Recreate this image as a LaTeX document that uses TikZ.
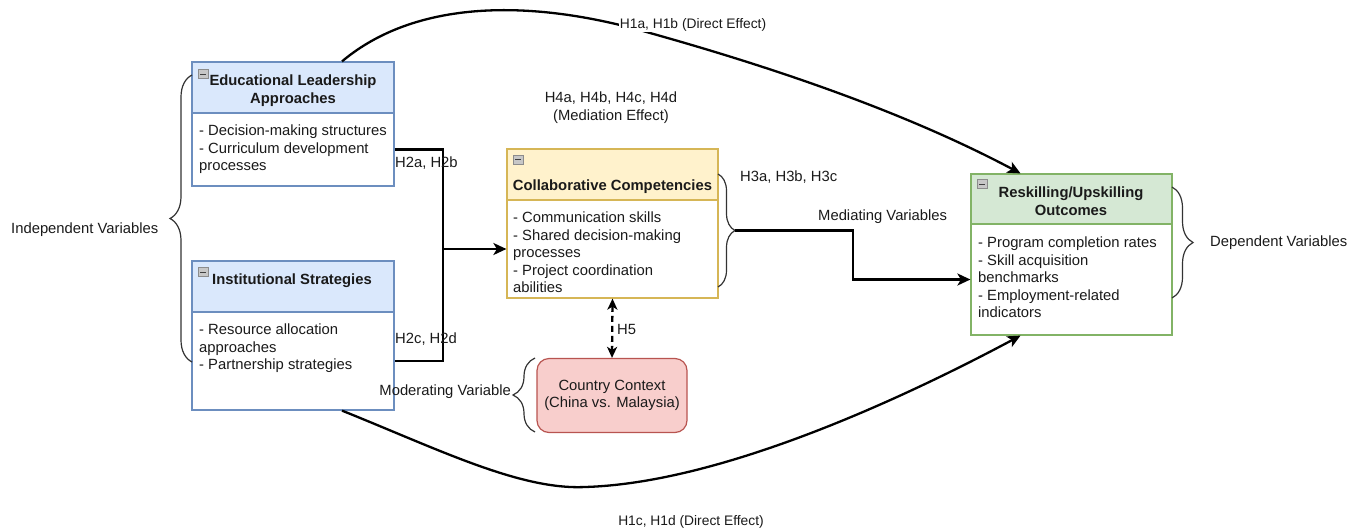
\documentclass[tikz,border=0pt]{standalone}
\usepackage{fontspec}
\setmainfont{Liberation Sans}
\usetikzlibrary{arrows.meta,decorations.pathreplacing,calc}
\definecolor{bluef}{HTML}{DAE8FC}
\definecolor{blued}{HTML}{6C8EBF}
\definecolor{yelf}{HTML}{FFF2CC}
\definecolor{yeld}{HTML}{D6B656}
\definecolor{grnf}{HTML}{D5E8D4}
\definecolor{grnd}{HTML}{82B366}
\definecolor{redf}{HTML}{F8CECC}
\definecolor{redd}{HTML}{B85450}
\definecolor{txt}{HTML}{1A1A1A}
\begin{document}
\begin{tikzpicture}[x=1pt,y=-1pt,
  every node/.style={font=\fontsize{14.8}{17.6}\selectfont, text=txt},
  part/.style={draw=#1, line width=1.2pt, inner sep=0pt},
  lbl/.style={inner sep=0pt},
  hd/.style={inner sep=0pt, align=center, anchor=north, font=\fontsize{14.8}{17.6}\selectfont\bfseries},
  bd/.style={inner sep=0pt, align=left, anchor=north west},
  conn/.style={line width=2.3pt, black},
  tip/.style={-{Stealth[length=13pt,width=12pt,inset=3.5pt]}},
  brc/.style={draw=black!80, line width=1.2pt, decorate, decoration={brace, amplitude=#1}},
  icon/.style={draw=black!45, fill=black!22, minimum width=10, minimum height=9, inner sep=0pt,
    path picture={\draw[black!75, line width=1pt] ([xshift=2pt]path picture bounding box.west) -- ([xshift=-2pt]path picture bounding box.east);}},
  h1/.style={inner sep=1pt, fill=white, font=\fontsize{13.8}{16}\selectfont}
]
\useasboundingbox (0,0) rectangle (1362,531);

% --- boxes ---
\node[part=blued, fill=bluef, minimum width=202, minimum height=51] (eduH) at (293,87.5) {};
\node[part=blued, fill=white, minimum width=202, minimum height=73] (eduB) at (293,149.5) {};
\node[part=blued, fill=bluef, minimum width=202, minimum height=51] (instH) at (293,286.5) {};
\node[part=blued, fill=white, minimum width=202, minimum height=98] (instB) at (293,361) {};
\node[part=yeld, fill=yelf, minimum width=211, minimum height=51] (colH) at (612.5,174.5) {};
\node[part=yeld, fill=white, minimum width=211, minimum height=98] (colB) at (612.5,249) {};
\node[part=grnd, fill=grnf, minimum width=201, minimum height=50] (resH) at (1071.5,199) {};
\node[part=grnd, fill=white, minimum width=201, minimum height=111] (resB) at (1071.5,279.5) {};
\node[part=redd, fill=redf, rounded corners=12pt, minimum width=150, minimum height=74, align=center] (ctry) at (612,395.5) {Country Context\\(China vs. Malaysia)};

% --- icons ---
\node[icon] (i1) at (203,74) {};
\node[icon] (i2) at (203,272) {};
\node[icon] (i3) at (518,159.5) {};
\node[icon] (i4) at (982,184) {};

% --- box texts ---
\node[hd] (eduHT) at (293,74.5) {Educational Leadership\\Approaches};
\node[bd] (eduBT) at (199,124.5) {- Decision-making structures\\- Curriculum development\\processes};
\node[hd] (instHT) at (292,273.5) {Institutional Strategies};
\node[bd] (instBT) at (199,323.5) {- Resource allocation\\approaches\\- Partnership strategies};
\node[hd] (colHT) at (612.5,179.5) {Collaborative Competencies};
\node[bd] (colBT) at (513,211.5) {- Communication skills\\- Shared decision-making\\processes\\- Project coordination\\abilities};
\node[hd] (resHT) at (1071,186.5) {Reskilling/Upskilling\\Outcomes};
\node[bd] (resBT) at (978,236.5) {- Program completion rates\\- Skill acquisition\\benchmarks\\- Employment-related\\indicators};

% --- H2 connectors ---
\coordinate (jx) at (443,249);
\draw[conn] (eduB.east) -| (jx) |- (instB.east);
\draw[conn, tip] (jx) -- (colB.west);
\node[lbl, anchor=west] (lH2ab) at (395,163) {H2a, H2b};
\node[lbl, anchor=west] (lH2cd) at (395,339) {H2c, H2d};

% --- braces ---
\coordinate (ib1) at (192,362); \coordinate (ib2) at (192,75);
\draw[brc=22pt] (ib1) -- (ib2);
\node[lbl, anchor=west] (lInd) at (11,230) {Independent Variables};

\coordinate (mb1) at (718,174); \coordinate (mb2) at (718,287);
\draw[brc=17pt] (mb1) -- (mb2);
\coordinate (mtip) at (735,230.5);

\coordinate (db1) at (1172,187); \coordinate (db2) at (1172,298);
\draw[brc=21pt] (db1) -- (db2);
\node[lbl, anchor=west] (lDep) at (1210,243) {Dependent Variables};

\coordinate (ob1) at (535,432); \coordinate (ob2) at (535,358);
\draw[brc=22pt] (ob1) -- (ob2);
\node[lbl, anchor=east] (lMod) at (511,392) {Moderating Variable};

% --- mediation connector ---
\coordinate (mk) at (853,250);
\draw[conn, tip] (mtip) -| (mk) |- (resB.west);
\node[lbl, anchor=west] (lMed) at (818,217) {Mediating Variables};
\node[lbl, anchor=west] (lH3) at (740,177) {H3a, H3b, H3c};
\node[lbl, align=center] (lH4) at (611,107.5) {H4a, H4b, H4c, H4d\\(Mediation Effect)};

% --- H5 ---
\draw[conn, dashed, dash pattern=on 6pt off 4pt, {Stealth[length=11pt,width=10pt,inset=3pt]}-{Stealth[length=11pt,width=10pt,inset=3pt]}] (colB.south) -- (ctry.north);
\node[lbl, anchor=west] (lH5) at (617,329) {H5};

% --- direct effects ---
\coordinate (c1) at (650,33);
\draw[conn, tip] ([xshift=49pt]eduH.north) .. controls (415,0) and (530,-2) .. (c1) .. controls (800,75) and (920,120) .. ([xshift=-51pt]resH.north);
\node[h1] (lH1ab) at (693,24.5) {H1a, H1b (Direct Effect)};

\coordinate (c2) at (585,487);
\draw[conn, tip] ([xshift=49pt]instB.south) .. controls (440,450) and (520,490) .. (c2) .. controls (720,483) and (900,400) .. ([xshift=-51pt]resB.south);
\node[h1] (lH1cd) at (691,521.5) {H1c, H1d (Direct Effect)};
\end{tikzpicture}
\end{document}
